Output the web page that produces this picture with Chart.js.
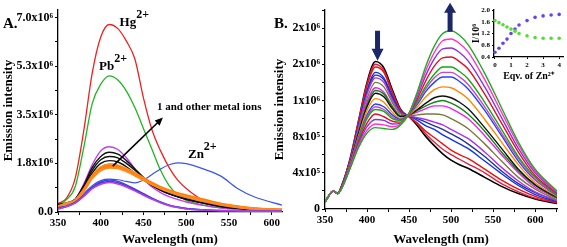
<!DOCTYPE html>
<html>
<head>
<meta charset="utf-8">
<script src="https://cdn.jsdelivr.net/npm/chart.js@4.4.0/dist/chart.umd.min.js"></script>
<style>
  body { margin: 0; background: #fff; width: 567px; height: 247px; overflow: hidden; position: relative; }
  canvas { position: absolute; }
  #cA { left: 0; top: 0; }
  #cB { left: 270px; top: 0; }
  #cI { left: 458px; top: 0; }
</style>
</head>
<body>
<canvas id="cA" width="286" height="247"></canvas>
<canvas id="cB" width="297" height="247"></canvas>
<canvas id="cI" width="109" height="84"></canvas>
<script>
// ---- panel A: emission of 1 with metal ions (x10^6) ----
const wlA = [350,360,370,380,390,400,410,420,430,440,450,460,470,480,490,500,520,540,560,580,612];
const hgA = [0.3,0.5,1.2,2.9,5.0,6.3,6.75,6.6,6.15,5.5,4.1,2.95,2.2,1.6,1.15,0.85,0.42,0.22,0.13,0.1,0.08];
const pbA = [0.25,0.45,0.9,2.3,3.9,4.6,4.9,4.75,4.35,3.75,3.0,2.25,1.5,0.95,0.62,0.42,0.25,0.15,0.1,0.08,0.06];
const znA = [0.15,0.2,0.35,0.65,0.95,1.13,1.18,1.16,1.1,1.05,1.15,1.35,1.55,1.7,1.77,1.74,1.55,1.3,0.85,0.54,0.25];
const violetA = [0.2,0.3,0.45,1.0,1.7,2.2,2.35,2.25,1.95,1.55,1.2,0.9,0.7,0.55,0.45,0.36,0.24,0.15,0.1,0.07,0.05];
const black1A = [0.22,0.3,0.45,0.95,1.6,2.0,2.15,2.08,1.85,1.55,1.25,1.0,0.8,0.65,0.55,0.46,0.32,0.2,0.13,0.09,0.06];
const black2A = [0.25,0.32,0.45,0.9,1.5,1.88,2.0,1.95,1.75,1.5,1.22,0.98,0.8,0.66,0.56,0.47,0.33,0.21,0.14,0.1,0.07];
const black3A = [0.28,0.33,0.45,0.85,1.4,1.75,1.85,1.8,1.63,1.4,1.15,0.95,0.78,0.65,0.55,0.46,0.32,0.2,0.13,0.09,0.07];
const blueTopA = [0.15,0.3,0.42,0.8,1.3,1.62,1.72,1.68,1.55,1.38,1.18,1.0,0.85,0.72,0.62,0.53,0.38,0.25,0.16,0.11,0.08];
const orange1A = [0.2,0.3,0.42,0.8,1.3,1.6,1.7,1.67,1.55,1.4,1.22,1.05,0.9,0.78,0.68,0.6,0.45,0.3,0.2,0.13,0.08];
const orange2A = [0.2,0.3,0.4,0.78,1.27,1.56,1.65,1.62,1.5,1.35,1.18,1.02,0.88,0.76,0.66,0.58,0.43,0.29,0.19,0.12,0.08];
const orange3A = [0.2,0.3,0.4,0.75,1.22,1.5,1.6,1.58,1.47,1.32,1.15,0.99,0.85,0.73,0.63,0.55,0.4,0.27,0.18,0.12,0.08];
const low1A = [0.15,0.22,0.35,0.6,0.9,1.08,1.15,1.1,0.98,0.82,0.66,0.5,0.36,0.25,0.18,0.13,0.08,0.05,0.04,0.03,0.03];
const low2A = [0.12,0.2,0.33,0.58,0.87,1.04,1.1,1.05,0.94,0.79,0.63,0.48,0.34,0.24,0.17,0.12,0.07,0.05,0.04,0.03,0.03];
const low3A = [0.1,0.2,0.32,0.56,0.84,1.0,1.06,1.01,0.9,0.76,0.6,0.46,0.33,0.23,0.16,0.11,0.07,0.05,0.04,0.03,0.03];
const yTicksA = ['0.0','1.8x10\u2076','3.5x10\u2076','5.3x10\u2076','7.0x10\u2076'];

// ---- panel B: titration with Zn2+ (x10^5) ----
const wlB = [350,360,365,370,380,390,400,410,420,430,440,450,460,470,480,490,500,510,520,540,560,580,600,626];
const b1 = [0.8,2.0,1.7,2.6,5.6,9.8,14.0,16.3,15.6,13.2,11.0,10.2,9.2,8.0,7.0,6.1,5.4,4.9,4.5,3.5,2.5,1.7,1.1,0.6];
const b1a = [0.8,2.0,1.7,2.6,5.6,9.7,13.8,16.0,15.3,13.0,10.9,10.2,9.4,8.3,7.4,6.6,6.0,5.5,5.0,4.0,2.8,1.9,1.2,0.7];
const b2 = [0.8,2.0,1.7,2.6,5.5,9.6,13.6,15.7,15.1,12.8,10.9,10.2,9.5,8.6,7.9,7.2,6.5,6.0,5.6,4.4,3.2,2.2,1.4,0.7];
const b3 = [0.8,2.0,1.7,2.6,5.4,9.3,13.1,15.1,14.5,12.5,10.7,10.3,9.8,9.2,8.8,8.2,7.7,7.2,6.7,5.3,3.9,2.6,1.6,0.8];
const b3a = [0.8,2.0,1.7,2.5,5.4,9.2,12.9,14.8,14.3,12.3,10.7,10.3,10.0,9.6,9.2,8.8,8.3,7.8,7.2,5.8,4.2,2.8,1.8,0.9];
const b4 = [0.8,2.0,1.7,2.5,5.3,9.1,12.7,14.5,14.0,12.1,10.6,10.3,10.1,9.9,9.6,9.3,8.8,8.3,7.8,6.3,4.6,3.1,1.9,0.9];
const b5 = [0.8,2.0,1.7,2.5,5.2,8.8,12.2,14.0,13.5,11.8,10.5,10.3,10.4,10.5,10.5,10.4,10.0,9.5,8.9,7.2,5.3,3.5,2.2,1.0];
const b6 = [0.8,2.0,1.7,2.5,5.2,8.6,11.8,13.4,12.9,11.4,10.3,10.4,10.7,11.1,11.4,11.4,11.1,10.6,10.0,8.1,6.0,4.0,2.4,1.2];
const b6a = [0.8,2.0,1.7,2.5,5.1,8.5,11.5,13.1,12.7,11.3,10.3,10.4,10.9,11.4,11.8,12.0,11.7,11.2,10.5,8.6,6.3,4.2,2.6,1.2];
const b7 = [0.8,2.0,1.7,2.5,5.1,8.4,11.3,12.8,12.4,11.1,10.2,10.4,11.0,11.7,12.3,12.5,12.3,11.8,11.1,9.0,6.7,4.4,2.7,1.3];
const b8 = [0.8,2.0,1.7,2.4,5.0,8.1,10.9,12.2,11.8,10.7,10.0,10.4,11.3,12.4,13.2,13.5,13.4,12.9,12.2,9.9,7.4,4.9,2.9,1.4];
const b9 = [0.8,2.0,1.7,2.4,4.9,7.9,10.4,11.6,11.3,10.4,9.9,10.5,11.6,13.0,14.0,14.6,14.6,14.1,13.3,10.9,8.1,5.3,3.2,1.5];
const b9a = [0.8,2.0,1.7,2.4,4.9,7.8,10.2,11.3,11.0,10.2,9.8,10.5,11.8,13.3,14.5,15.1,15.1,14.6,13.8,11.3,8.4,5.6,3.3,1.6];
const b10 = [0.8,2.0,1.7,2.4,4.8,7.6,10.0,11.0,10.8,10.0,9.8,10.5,11.9,13.6,14.9,15.7,15.7,15.2,14.4,11.8,8.8,5.8,3.5,1.6];
const b11 = [0.8,2.0,1.7,2.4,4.7,7.4,9.5,10.5,10.2,9.7,9.6,10.5,12.2,14.2,15.8,16.7,16.8,16.3,15.5,12.7,9.5,6.3,3.7,1.7];
const b12 = [0.8,2.0,1.7,2.3,4.6,7.2,9.1,9.9,9.8,9.4,9.5,10.5,12.5,14.8,16.6,17.7,17.8,17.3,16.4,13.5,10.1,6.7,4.0,1.8];
const b13 = [0.8,2.0,1.7,2.3,4.6,7.0,8.7,9.4,9.3,9.1,9.4,10.6,12.8,15.3,17.3,18.6,18.8,18.3,17.4,14.3,10.7,7.1,4.2,1.9];
const b14 = [0.8,2.0,1.7,2.3,4.5,6.8,8.4,9.0,8.9,8.8,9.3,10.6,13.0,15.8,18.0,19.4,19.7,19.2,18.2,15.0,11.2,7.4,4.4,2.0];
const yTicksB = ['0','4x10\u2075','8x10\u2075','1x10\u2076','2x10\u2076','2x10\u2076'];

// ---- inset: I/10^6 vs equivalents of Zn2+ ----
const eqv = [0,0.25,0.5,0.75,1.0,1.25,1.5,2.0,2.5,3.0,3.5,4.0];
const ratioGreen = [1.64,1.57,1.5,1.42,1.35,1.28,1.2,1.12,1.06,1.04,1.04,1.04];
const ratioPurple = [0.56,0.7,0.87,1.01,1.2,1.35,1.49,1.64,1.75,1.8,1.83,1.85];
const yTicksI = ['0.4','0.8','1.2','1.6','2.0'];

const FONT = "'Liberation Serif', 'Times New Roman', serif";
Chart.defaults.font.family = FONT;
Chart.defaults.color = '#000';

function line(xs, ys, color, width) {
    return {
        data: xs.map((x, i) => ({ x: x, y: ys[i] })),
        borderColor: color, borderWidth: width || 1.4,
        pointRadius: 0, fill: false, cubicInterpolationMode: 'monotone'
    };
}

function axis(min, max, step, cb, size, title, titleSize) {
    return {
        type: 'linear', min: min, max: max,
        border: { color: '#000', width: 1.3 },
        grid: { drawOnChartArea: false, color: '#000', tickLength: 3, lineWidth: 1 },
        ticks: { stepSize: step, includeBounds: false, autoSkip: false, maxRotation: 0, color: '#000',
                 padding: 2, font: { family: FONT, size: size, weight: 'bold' }, callback: cb },
        title: { display: !!title, text: title, color: '#000', padding: { top: 1, bottom: 0 },
                 font: { family: FONT, size: titleSize, weight: 'bold' } }
    };
}

function supLabel(ctx, base, sup, x, y, size) {
    ctx.font = `bold ${size}px ${FONT}`;
    ctx.fillText(base, x, y);
    const w = ctx.measureText(base).width;
    ctx.font = `bold ${size - 1}px ${FONT}`;
    ctx.fillText(sup, x + w, y - size * 0.62);
}

function blockArrow(ctx, cx, yTail, yTip, shaftW, headW, headLen) {
    const dir = yTip > yTail ? 1 : -1;
    const yHead = yTip - dir * headLen;
    ctx.beginPath();
    ctx.moveTo(cx - shaftW / 2, yTail);
    ctx.lineTo(cx + shaftW / 2, yTail);
    ctx.lineTo(cx + shaftW / 2, yHead);
    ctx.lineTo(cx + headW / 2, yHead);
    ctx.lineTo(cx, yTip);
    ctx.lineTo(cx - headW / 2, yHead);
    ctx.lineTo(cx - shaftW / 2, yHead);
    ctx.closePath();
    ctx.fill();
}

const common = {
    responsive: false, animation: false, devicePixelRatio: 1,
    plugins: { legend: { display: false }, tooltip: { enabled: false } }
};

// panel A
const annotA = {
    id: 'annotA',
    afterDatasetsDraw(chart) {
        const { ctx, scales: { x, y } } = chart;
        ctx.save();
        ctx.fillStyle = '#000';
        ctx.strokeStyle = '#000';
        supLabel(ctx, 'Hg', '2+', x.getPixelForValue(422), y.getPixelForValue(6.68), 13);
        supLabel(ctx, 'Pb', '2+', x.getPixelForValue(398), y.getPixelForValue(5.11), 13);
        supLabel(ctx, 'Zn', '2+', x.getPixelForValue(502), y.getPixelForValue(1.93), 13);
        ctx.font = `bold 11px ${FONT}`;
        ctx.fillText('1 and other metal ions', x.getPixelForValue(465.7), y.getPixelForValue(3.66));
        // arrow through the curves
        const x0 = x.getPixelForValue(414), y0 = y.getPixelForValue(1.65);
        const x1 = x.getPixelForValue(472.7), y1 = y.getPixelForValue(3.4);
        const a = Math.atan2(y1 - y0, x1 - x0);
        ctx.lineWidth = 1.6;
        ctx.beginPath(); ctx.moveTo(x0, y0); ctx.lineTo(x1 - 5 * Math.cos(a), y1 - 5 * Math.sin(a)); ctx.stroke();
        ctx.beginPath();
        ctx.moveTo(x1, y1);
        ctx.lineTo(x1 - 8 * Math.cos(a) + 3.5 * Math.sin(a), y1 - 8 * Math.sin(a) - 3.5 * Math.cos(a));
        ctx.lineTo(x1 - 8 * Math.cos(a) - 3.5 * Math.sin(a), y1 - 8 * Math.sin(a) + 3.5 * Math.cos(a));
        ctx.closePath(); ctx.fill();
        ctx.font = `bold 15px ${FONT}`;
        ctx.fillText('A.', 3, 28);
        ctx.restore();
    }
};

new Chart(document.getElementById('cA'), {
    type: 'line',
    data: { datasets: [
        line(wlA, low3A, '#b040e8', 1.6),
        line(wlA, low2A, '#6a2fc8', 1.6),
        line(wlA, low1A, '#2f48e0', 1.4),
        line(wlA, orange3A, '#ff8a1a', 2.4),
        line(wlA, orange2A, '#ff7a00', 2.4),
        line(wlA, orange1A, '#ff9020', 2.4),
        line(wlA, blueTopA, '#2244dd', 1.4),
        line(wlA, black3A, '#111111', 1.4),
        line(wlA, black2A, '#111111', 1.4),
        line(wlA, black1A, '#111111', 1.4),
        line(wlA, violetA, '#c040f0', 1.4),
        line(wlA, znA, '#3a55e8', 1.2),
        line(wlA, pbA, '#22b422', 1.3),
        line(wlA, hgA, '#ee2222', 1.3)
    ] },
    options: Object.assign({}, common, {
        layout: { padding: { left: 0, right: 4, top: 3, bottom: 0 } },
        scales: {
            x: Object.assign(axis(350, 612, 25, v => (v % 50 === 0 ? String(v) : ''), 11, 'Wavelength (nm)', 13),
                { position: 'bottom', afterFit: s => { s.height = 35; } }),
            y: Object.assign(axis(0, 7.3, 0.875, (v, i) => (i % 2 === 0 ? yTicksA[i / 2] : ''), 12, 'Emission intensity', 13),
                { afterFit: s => { s.width = 58; } })
        }
    }),
    plugins: [annotA]
});

// panel B
const annotB = {
    id: 'annotB',
    afterDatasetsDraw(chart) {
        const { ctx, scales: { x, y } } = chart;
        ctx.save();
        ctx.fillStyle = '#1b2766';
        blockArrow(ctx, x.getPixelForValue(412.5), y.getPixelForValue(19.7), y.getPixelForValue(16.4), 5, 12, 12);
        blockArrow(ctx, x.getPixelForValue(498.8), y.getPixelForValue(19.6), y.getPixelForValue(22.8), 5, 12, 10);
        ctx.fillStyle = '#000';
        ctx.font = `bold 15px ${FONT}`;
        ctx.fillText('B.', 4, 28);
        ctx.restore();
    }
};

new Chart(document.getElementById('cB'), {
    type: 'line',
    data: { datasets: [
        line(wlB, b14, '#22aa22'),
        line(wlB, b13, '#ff33cc'),
        line(wlB, b12, '#8833dd'),
        line(wlB, b11, '#e0102a'),
        line(wlB, b10, '#11aa11'),
        line(wlB, b9a, '#cc44cc'),
        line(wlB, b9, '#2244ff'),
        line(wlB, b8, '#ff8800'),
        line(wlB, b7, '#111111'),
        line(wlB, b6a, '#118811'),
        line(wlB, b6, '#ee22ee'),
        line(wlB, b5, '#7a7a3a'),
        line(wlB, b4, '#aa33ee'),
        line(wlB, b3a, '#223399'),
        line(wlB, b3, '#1133ee'),
        line(wlB, b2, '#ee1111'),
        line(wlB, b1a, '#dd2244'),
        line(wlB, b1, '#000000', 1.6)
    ] },
    options: Object.assign({}, common, {
        layout: { padding: { left: 1, right: 10, top: 10, bottom: 0 } },
        scales: {
            x: Object.assign(axis(350, 626, 25, v => (v % 50 === 0 ? String(v) : ''), 11, 'Wavelength (nm)', 13),
                { position: 'bottom', afterFit: s => { s.height = 38; } }),
            y: Object.assign(axis(0, 22, 2, (v, i) => (i % 2 === 0 ? yTicksB[i / 2] : ''), 12, 'Emission intensity', 13),
                { afterFit: s => { s.width = 54; } })
        }
    }),
    plugins: [annotB]
});

// inset
const xI = axis(-0.06, 4.24, 1, v => String(v), 7, 'Eqv. of Zn\u00b2\u207a', 10);
xI.grid.tickLength = 2;
xI.title.padding = { top: 0, bottom: 2 };
const yI = axis(0.4, 2.0, 0.4, (v, i) => yTicksI[i], 7, 'I/10\u2076', 10);
yI.grid.tickLength = 2;
yI.title.padding = { top: 2, bottom: 0 };

new Chart(document.getElementById('cI'), {
    type: 'scatter',
    data: { datasets: [
        { data: eqv.map((e, i) => ({ x: e, y: ratioGreen[i] })), pointRadius: 1.8, pointBorderWidth: 0,
          pointBackgroundColor: '#55dd33', clip: false },
        { data: eqv.map((e, i) => ({ x: e, y: ratioPurple[i] })), pointRadius: 1.8, pointBorderWidth: 0,
          pointBackgroundColor: '#6644ee', clip: false }
    ] },
    options: Object.assign({}, common, {
        layout: { padding: { left: 10, right: 0, top: 10, bottom: 0 } },
        scales: {
            x: Object.assign(xI, { position: 'bottom', afterFit: s => { s.height = 27; } }),
            y: Object.assign(yI, { afterFit: s => { s.width = 26; } })
        }
    })
});
</script>
</body>
</html>
